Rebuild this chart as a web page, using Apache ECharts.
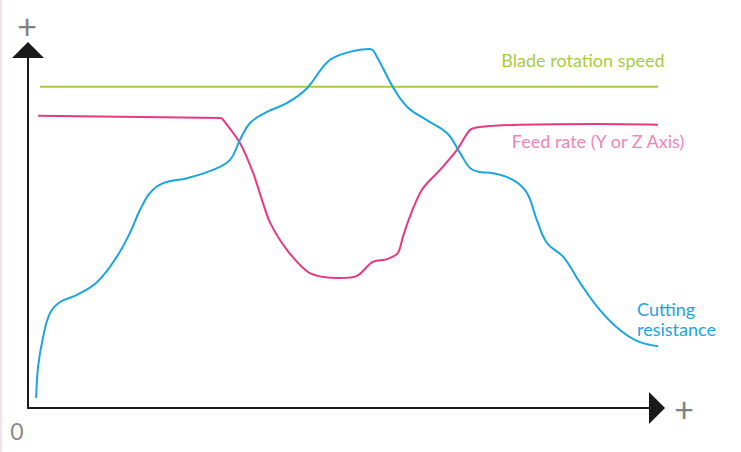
<!DOCTYPE html>
<html>
<head>
<meta charset="utf-8">
<script src="https://cdn.jsdelivr.net/npm/echarts@6/dist/echarts.min.js"></script>
<style>html,body{margin:0;padding:0;background:#fff}#c{width:741px;height:452px}</style>
</head>
<body>
<div id="c"></div>
<script>
// x and y on a 0–100 relative scale
var bladeSpeed = [[1.9, 89.7], [101.3, 89.7]];
var feedRateFlat = [[1.6, 81.6], [30.8, 81.0]];
var feedRate = [
  [30.8, 81.0], [33.7, 74.0], [35.8, 65.6], [37.2, 58.1], [38.5, 51.7],
  [41.2, 44.1], [44.8, 37.7], [49.6, 36.3], [52.3, 36.9], [54.8, 40.8], [57.1, 41.6],
  [58.8, 43.3], [59.6, 47.8], [60.7, 53.4], [62.6, 60.9], [65.5, 66.5], [68.2, 72.1],
  [70.3, 77.7], [71.9, 78.5], [78.2, 79.1], [90.9, 79.3], [101.3, 79.1]
];
var cuttingResistance = [
  [1.3, 2.8], [1.6, 11.5], [2.4, 19.8], [3.5, 26.5], [5.1, 29.6], [7.8, 31.6],
  [11.0, 35.2], [14.1, 42.2], [16.2, 48.9], [17.8, 55.3], [19.4, 60.1], [21.5, 62.8],
  [25.3, 64.2], [29.4, 66.5], [32.1, 69.3], [33.7, 74.9], [35.3, 79.6], [38.0, 82.7],
  [41.2, 85.2], [44.4, 89.4], [46.9, 95.3], [48.5, 97.8], [51.7, 99.7], [54.4, 100.3],
  [55.5, 98.0], [58.0, 89.7], [60.3, 84.1], [63.4, 80.4], [66.6, 76.8], [68.7, 71.2],
  [70.3, 67.0], [71.9, 65.9], [73.9, 65.6], [77.1, 63.7], [79.3, 60.1], [80.9, 52.5],
  [82.5, 46.1], [85.1, 42.2], [87.8, 34.9], [90.9, 27.4], [94.1, 21.8], [97.3, 18.4],
  [101.6, 17.0]
];
var labels = {
  blade: 'Blade rotation speed',
  feed: 'Feed rate (Y or Z Axis)',
  cut: 'Cutting\nresistance',
  plus: '+',
  origin: '0'
};

var chart = echarts.init(document.getElementById('c'), null, {renderer: 'svg'});
var FONT = 'Lato, sans-serif';
var GREEN = '#a9cb3f', PINK = '#e8387f', BLUE = '#1ba5dd';
var axisLine = {
  show: true,
  symbol: ['none', 'triangle'],
  symbolSize: [32, 16],
  lineStyle: {color: '#1a1a1a', width: 2}
};
chart.setOption({
  animation: false,
  grid: {left: 28, top: 50, right: 84, bottom: 44},
  xAxis: {type: 'value', min: 0, max: 100, axisLine: axisLine,
    axisTick: {show: false}, axisLabel: {show: false}, splitLine: {show: false}},
  yAxis: {type: 'value', min: 0, max: 100, axisLine: axisLine,
    axisTick: {show: false}, axisLabel: {show: false}, splitLine: {show: false}},
  series: [
    {type: 'line', data: bladeSpeed, showSymbol: false, clip: false,
      lineStyle: {color: GREEN, width: 2}},
    {type: 'line', data: feedRateFlat, showSymbol: false, clip: false,
      lineStyle: {color: PINK, width: 2}},
    {type: 'line', data: feedRate, showSymbol: false, clip: false, smooth: 0.3,
      lineStyle: {color: PINK, width: 2}},
    {type: 'line', data: cuttingResistance, showSymbol: false, clip: false, smooth: 0.4,
      lineStyle: {color: BLUE, width: 2}}
  ],
  graphic: [
    {type: 'rect', shape: {x: 0, y: 0, width: 2, height: 452}, style: {fill: '#f5e3eb'}},
    {type: 'text', x: 583, y: 60, style: {text: labels.blade, fill: GREEN, font: '18px ' + FONT, align: 'center', verticalAlign: 'middle'}},
    {type: 'text', x: 598, y: 141, style: {text: labels.feed, fill: '#ee86b3', font: '18px ' + FONT, align: 'center', verticalAlign: 'middle'}},
    {type: 'text', x: 637, y: 299, style: {text: labels.cut, fill: BLUE, font: '18px ' + FONT, lineHeight: 20, align: 'left', verticalAlign: 'top'}},
    {type: 'text', x: 27, y: 25, style: {text: labels.plus, fill: '#808080', font: '34px ' + FONT, align: 'center', verticalAlign: 'middle'}},
    {type: 'text', x: 684, y: 408, style: {text: labels.plus, fill: '#808080', font: '34px ' + FONT, align: 'center', verticalAlign: 'middle'}},
    {type: 'text', x: 17, y: 431, style: {text: labels.origin, fill: '#8a8a8a', font: '23px ' + FONT, align: 'center', verticalAlign: 'middle'}}
  ]
});
</script>
</body>
</html>
